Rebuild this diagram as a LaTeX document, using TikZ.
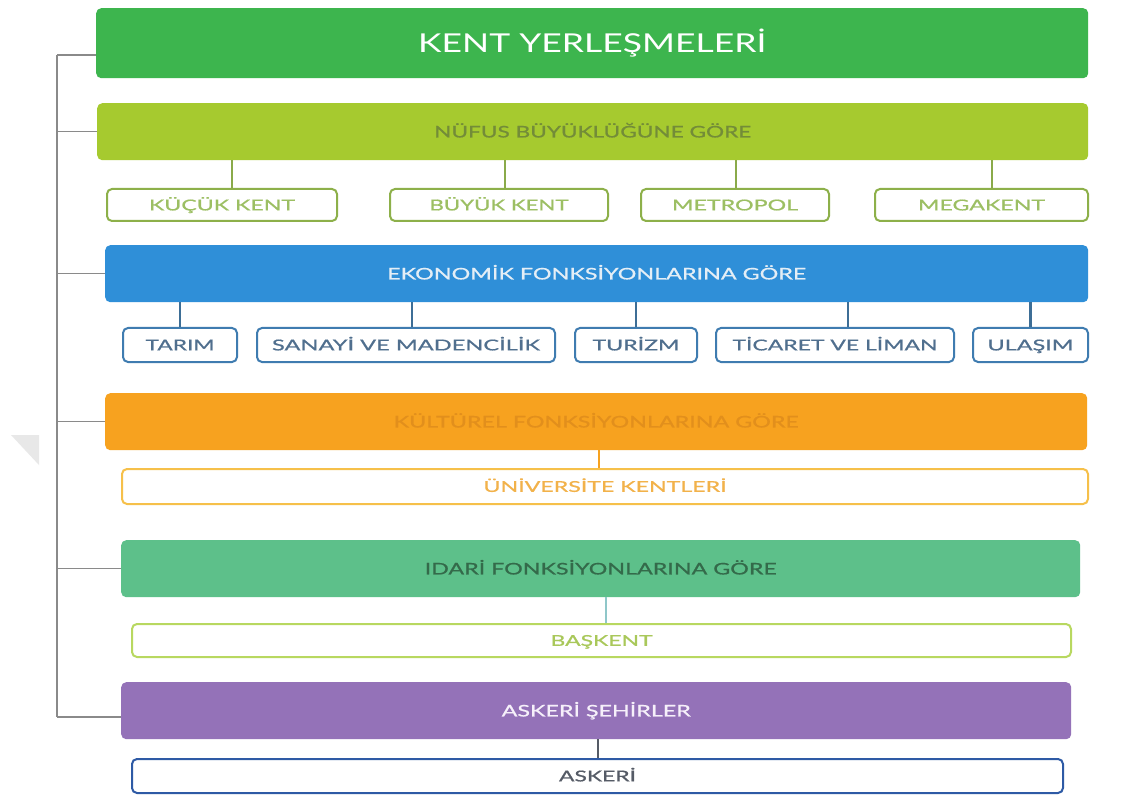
\documentclass[tikz,border=0pt]{standalone}
\usepackage{fontspec}
\setmainfont{Lato}
\newfontfamily\latomed[FakeBold=0.7]{Lato}
\usepackage{graphicx}
\newcommand\fitt[2]{\resizebox{#1pt}{\height}{#2}}
\definecolor{cMain}{HTML}{3DB54E}
\definecolor{cNuf}{HTML}{A6CA2F}
\definecolor{cNufT}{HTML}{738C38}
\definecolor{cNufB}{HTML}{8DB04A}
\definecolor{cNufC}{HTML}{9CBF63}
\definecolor{cNufL}{HTML}{8AAA4A}
\definecolor{cEko}{HTML}{2F8FD8}
\definecolor{cEkoT}{HTML}{E4EEF6}
\definecolor{cEkoB}{HTML}{3F7CB0}
\definecolor{cEkoC}{HTML}{506F8E}
\definecolor{cEkoL}{HTML}{3D6E96}
\definecolor{cKul}{HTML}{F7A21F}
\definecolor{cKulT}{HTML}{E28F1C}
\definecolor{cUniB}{HTML}{F6C04A}
\definecolor{cUniT}{HTML}{F2B24A}
\definecolor{cIda}{HTML}{5DC08A}
\definecolor{cIdaT}{HTML}{346A4A}
\definecolor{cBasB}{HTML}{B8D860}
\definecolor{cBasT}{HTML}{A9C85A}
\definecolor{cBasL}{HTML}{8FC7C9}
\definecolor{cAsk}{HTML}{9472B8}
\definecolor{cAskT}{HTML}{F6F0FA}
\definecolor{cAskB}{HTML}{2E5AA5}
\definecolor{cAskC}{HTML}{555B66}
\definecolor{cTrunk}{HTML}{8A8A8A}
\definecolor{cTri}{HTML}{E8E8E8}
\begin{document}
\begin{tikzpicture}[x=1pt,y=-1pt,
  hdr/.style={anchor=north west,inner sep=0pt,rounded corners=5pt,text height=11.5pt,text depth=0pt,font=\latomed\fontsize{16}{16}\selectfont},
  sub/.style={anchor=north west,inner sep=0pt,rounded corners=5pt,line width=2pt,fill=white,text height=10.8pt,text depth=0pt,font=\latomed\fontsize{15}{15}\selectfont},
  trunk/.style={draw=cTrunk,line width=1.5pt},
  conn/.style={line width=2pt}]
\useasboundingbox[fill=white] (0,0) rectangle (1122,810);
\fill[cTri] (11,435) -- (39,435) -- (39,465) -- cycle;
% headers
\node[hdr,fill=cMain,text=white,minimum width=992pt,minimum height=70pt,text height=18.7pt,font=\fontsize{26}{26}\selectfont] (main) at (96,8) {\fitt{348}{KENT YERLEŞMELERİ}};
\node[hdr,fill=cNuf,text=cNufT,minimum width=991pt,minimum height=57pt] (nufus) at (97,103) {\fitt{317}{NÜFUS BÜYÜKLÜĞÜNE GÖRE}};
\node[hdr,fill=cEko,text=cEkoT,minimum width=983pt,minimum height=57pt] (eko) at (105,245) {\fitt{419}{EKONOMİK FONKSİYONLARINA GÖRE}};
\node[hdr,fill=cKul,text=cKulT,minimum width=982pt,minimum height=57pt] (kul) at (105,393) {\fitt{405}{KÜLTÜREL FONKSİYONLARINA GÖRE}};
\node[hdr,fill=cIda,text=cIdaT,minimum width=959pt,minimum height=57pt] (ida) at (121,540) {\fitt{352}{IDARİ FONKSİYONLARINA GÖRE}};
\node[hdr,fill=cAsk,text=cAskT,minimum width=950pt,minimum height=57pt] (asks) at (121,682) {\fitt{189}{ASKERİ ŞEHİRLER}};
% nufus children
\node[sub,draw=cNufB,text=cNufC,minimum width=230pt,minimum height=32pt] (kucuk) at (106,188) {\fitt{146}{KÜÇÜK KENT}};
\node[sub,draw=cNufB,text=cNufC,minimum width=218pt,minimum height=32pt] (buyuk) at (389,188) {\fitt{139}{BÜYÜK KENT}};
\node[sub,draw=cNufB,text=cNufC,minimum width=188pt,minimum height=32pt] (metro) at (640,188) {\fitt{126}{METROPOL}};
\node[sub,draw=cNufB,text=cNufC,minimum width=213pt,minimum height=32pt] (mega) at (874,188) {\fitt{127}{MEGAKENT}};
% eko children
\node[sub,draw=cEkoB,text=cEkoC,minimum width=114pt,minimum height=34pt] (tarim) at (122,327) {\fitt{69}{TARIM}};
\node[sub,draw=cEkoB,text=cEkoC,minimum width=298pt,minimum height=34pt] (sanayi) at (256,327) {\fitt{268}{SANAYİ VE MADENCİLİK}};
\node[sub,draw=cEkoB,text=cEkoC,minimum width=122pt,minimum height=34pt] (turizm) at (574,327) {\fitt{87}{TURİZM}};
\node[sub,draw=cEkoB,text=cEkoC,minimum width=238pt,minimum height=34pt] (ticaret) at (715,327) {\fitt{205}{TİCARET VE LİMAN}};
\node[sub,draw=cEkoB,text=cEkoC,minimum width=115pt,minimum height=34pt] (ulasim) at (972,327) {\fitt{86}{ULAŞIM}};
% single children
\node[sub,draw=cUniB,text=cUniT,minimum width=966pt,minimum height=35pt] (uni) at (121,468) {\fitt{243}{ÜNİVERSİTE KENTLERİ}};
\node[sub,draw=cBasB,text=cBasT,minimum width=939pt,minimum height=33pt] (bas) at (131,623) {\fitt{102}{BAŞKENT}};
\node[sub,draw=cAskB,text=cAskC,minimum width=931pt,minimum height=34pt] (ask) at (131,758) {\fitt{77}{ASKERİ}};
% trunk
\coordinate (t0) at (57,55);
\coordinate (t5) at (57,717);
\draw[trunk] (t0) -- (t5);
\draw[trunk] (t0) -- (t0 -| main.west);
\draw[trunk] (t0 |- nufus.west) -- (nufus.west);
\draw[trunk] (t0 |- eko.west) -- (eko.west);
\draw[trunk] (t0 |- kul.west) -- (kul.west);
\draw[trunk] (t0 |- ida.west) -- (ida.west);
\draw[trunk] (t5) -- (t5 -| asks.west);
% connectors
\draw[conn,cNufL] ([xshift=10pt]kucuk.north) -- ([xshift=10pt]kucuk.north |- nufus.south);
\draw[conn,cNufL] ([xshift=6pt]buyuk.north) -- ([xshift=6pt]buyuk.north |- nufus.south);
\draw[conn,cNufL] ([xshift=1pt]metro.north) -- ([xshift=1pt]metro.north |- nufus.south);
\draw[conn,cNufL] ([xshift=10pt]mega.north) -- ([xshift=10pt]mega.north |- nufus.south);
\draw[conn,cEkoL,line width=2.5pt] (tarim.north) -- (tarim.north |- eko.south);
\draw[conn,cEkoL,line width=2.5pt] ([xshift=6pt]sanayi.north) -- ([xshift=6pt]sanayi.north |- eko.south);
\draw[conn,cEkoL,line width=2.5pt] (turizm.north) -- (turizm.north |- eko.south);
\draw[conn,cEkoL,line width=2.5pt] ([xshift=13pt]ticaret.north) -- ([xshift=13pt]ticaret.north |- eko.south);
\draw[conn,cEkoL,line width=2.5pt] (ulasim.north) -- (ulasim.north |- eko.south);
\draw[conn,cKul] ([xshift=-6pt]uni.north) -- ([xshift=-6pt]uni.north |- kul.south);
\draw[conn,cBasL] ([xshift=4pt]bas.north) -- ([xshift=4pt]bas.north |- ida.south);
\draw[conn,cAskC] (ask.north) -- (ask.north |- asks.south);
\end{tikzpicture}
\end{document}
